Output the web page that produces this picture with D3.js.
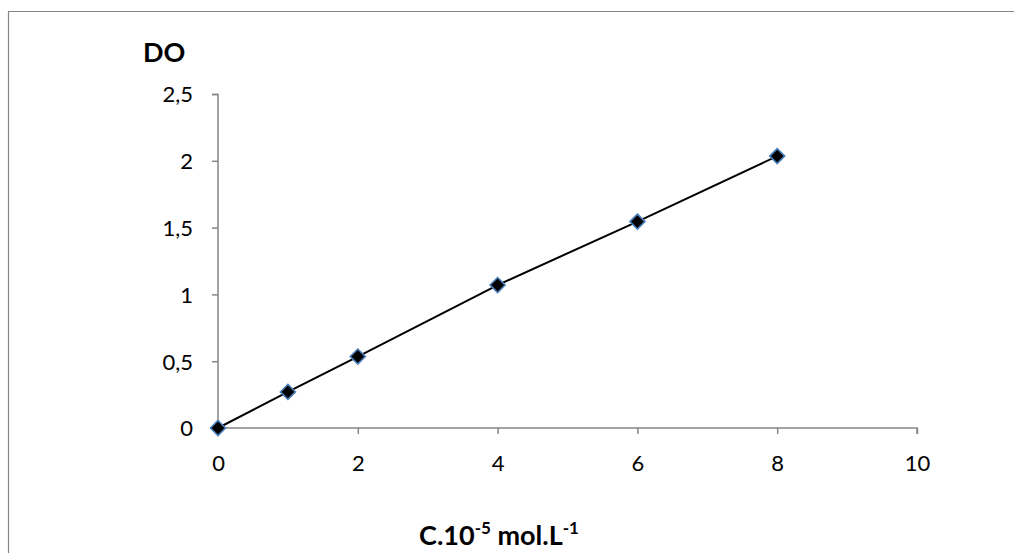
<!DOCTYPE html>
<html><head><meta charset="utf-8">
<script src="https://cdn.jsdelivr.net/npm/d3@7"></script>
<style>
html,body{margin:0;padding:0;background:#fff;}
svg text{font-family:Lato,"Open Sans",sans-serif;}
</style>
</head><body>
<svg id="c" width="1014" height="553"></svg>
<script>
const xValues = [0, 1, 2, 4, 6, 8];
const yValues = [0, 0.27, 0.535, 1.07, 1.545, 2.035];
const xTicks = [0, 2, 4, 6, 8, 10];
const yTicks = [0, 0.5, 1, 1.5, 2, 2.5];
const yTickLabels = ["0", "0,5", "1", "1,5", "2", "2,5"];

const svg = d3.select("#c");
// outer frame
svg.append("path").attr("d","M8.5,553 L8.5,11.5 L1014,11.5")
  .attr("fill","none").attr("stroke","#868686").attr("stroke-width",1.2);

const x = d3.scaleLinear().domain([0,10]).range([218,917]);
const y = d3.scaleLinear().domain([0,2.5]).range([428,94]);

const axisColor = "#868686";
// y axis
const ya = svg.append("g").attr("transform","translate(218,0)")
  .call(d3.axisLeft(y).tickValues(yTicks).tickSize(6).tickPadding(19)
    .tickFormat((d,i)=>yTickLabels[i]));
// x axis
const xa = svg.append("g").attr("transform","translate(0,428)")
  .call(d3.axisBottom(x).tickValues(xTicks).tickSize(6).tickPadding(3)
    .tickFormat(d=>String(d)));
[ya,xa].forEach(g=>{
  g.select(".domain").attr("stroke",axisColor).attr("stroke-width",1.5);
  g.selectAll(".tick line").attr("stroke",axisColor).attr("stroke-width",1.5);
  g.selectAll(".tick text").attr("font-size",22).attr("fill","#000")
    .style("font-family","Lato,'Open Sans',sans-serif");
});
ya.select(".domain").attr("d","M-6,94.5H0V428");
xa.select(".domain").attr("d","M218,0H917V6");
xa.selectAll(".tick text").attr("y",43).attr("dy","0");
ya.selectAll(".tick text").attr("dy","0.36em");

// line
svg.append("path").datum(xValues.map((v,i)=>[v,yValues[i]]))
  .attr("d", d3.line().x(d=>x(d[0])).y(d=>y(d[1])))
  .attr("fill","none").attr("stroke","#000").attr("stroke-width",2);

// markers
svg.selectAll(".m").data(xValues.map((v,i)=>[v,yValues[i]])).enter()
  .append("path").attr("class","m")
  .attr("transform",d=>`translate(${x(d[0])},${y(d[1])})`)
  .attr("d","M0,-7.5L7.5,0L0,7.5L-7.5,0Z")
  .attr("fill","#000").attr("stroke","#4a7ebb").attr("stroke-width",1.6);

// titles
svg.append("text").attr("x",143).attr("y",62).attr("font-size",27)
  .attr("font-weight","bold").text("DO");
const t = svg.append("text").attr("x",499).attr("y",545).attr("text-anchor","middle")
  .attr("font-size",27).attr("font-weight","bold");
t.append("tspan").text("C.10");
t.append("tspan").attr("font-size",17).attr("dy",-11).text("-5");
t.append("tspan").attr("dy",11).text(" mol.L");
t.append("tspan").attr("font-size",17).attr("dy",-11).text("-1");
</script>
</body></html>
